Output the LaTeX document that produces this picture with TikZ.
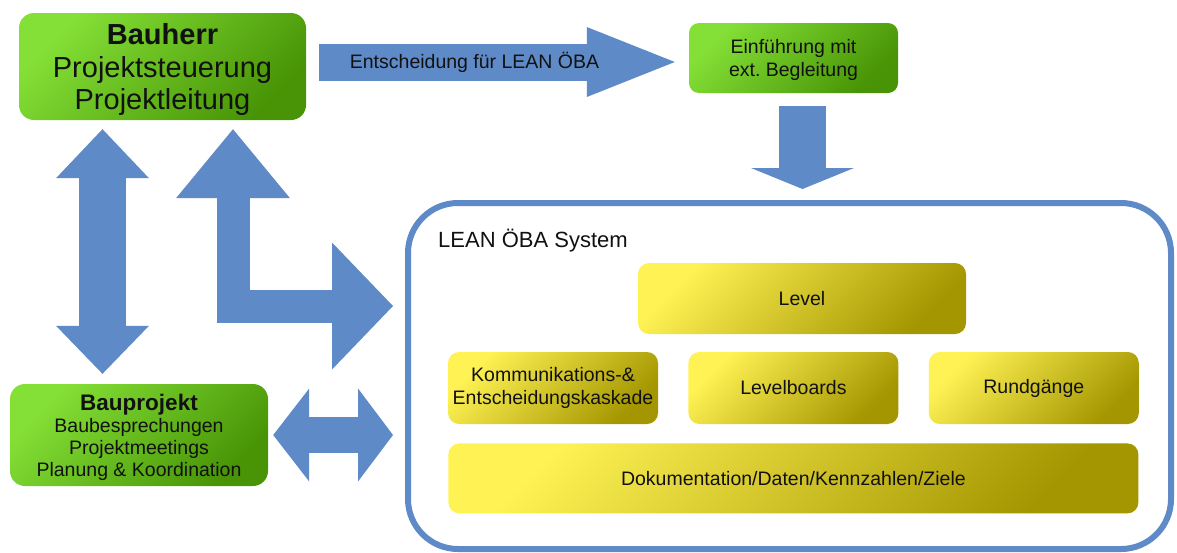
\documentclass[tikz,border=0pt]{standalone}
\usepackage{fontspec}
\setmainfont{Liberation Sans}
\usepackage{tikz}
\usetikzlibrary{arrows.meta,positioning,calc}
\definecolor{blockblue}{RGB}{94,138,199}
\definecolor{greenL}{RGB}{132,224,54}
\definecolor{greenD}{RGB}{72,148,6}
\definecolor{yellowL}{RGB}{255,242,84}
\definecolor{yellowD}{RGB}{164,150,0}
\definecolor{textK}{HTML}{111111}
\tikzset{
  greenbox/.style={rectangle, rounded corners=#1, top color=greenL, bottom color=greenD,
                   shading angle=45, align=center, inner sep=0pt, text=textK, text depth=0pt},
  yellowbox/.style={rectangle, rounded corners=11pt, top color=yellowL, bottom color=yellowD,
                    shading angle=45, align=center, inner sep=0pt, text=textK,
                    font=\fontsize{19.5}{23}\selectfont},
  blockarrow/.style={draw=blockblue, line width=#1, line join=miter},
}

\begin{document}
\begin{tikzpicture}[x=1pt, y=-1pt]
\useasboundingbox (0,0) rectangle (1177,552);
\node[greenbox=15pt, minimum width=287pt, minimum height=107pt, font=\fontsize{29}{32.5}\selectfont] (bauherr) at (162.5,66.5) {\textbf{Bauherr}\\Projektsteuerung\\Projektleitung};
\node[greenbox=10pt, minimum width=209pt, minimum height=70pt, font=\fontsize{19.5}{23.5}\selectfont] (einf) at (793.5,58) {Einführung mit\\ext.\ Begleitung};
\node[greenbox=15pt, minimum width=258pt, minimum height=102pt, font=\fontsize{19.5}{22}\selectfont] (bauprojekt) at (139,435) {{\fontsize{22.5}{22}\selectfont\textbf{Bauprojekt}}\\Baubesprechungen\\Projektmeetings\\Planung \& Koordination};
% LEAN system frame
\node[rectangle, draw=blockblue, line width=6pt, rounded corners=50pt, minimum width=763pt, minimum height=346pt, inner sep=0pt] (lean) at (789.5,376) {};
\node[anchor=west, inner sep=0pt, font=\fontsize{22}{26}\selectfont, text=textK] (leantitle) at (438,241) {LEAN ÖBA System};
\node[yellowbox, minimum width=328pt, minimum height=71pt] (level) at (802,298.5) {Level};
\node[yellowbox, minimum width=210pt, minimum height=72pt] (komm) at (553,388) {Kommunikations-\&\\Entscheidungskaskade};
\node[yellowbox, minimum width=210pt, minimum height=72pt, right=30pt of komm] (levelboards) {Levelboards};
\node[yellowbox, minimum width=210pt, minimum height=72pt, right=30pt of levelboards] (rundgaenge) {Rundgänge};
\node[yellowbox, minimum width=690pt, minimum height=70pt, below=19pt of levelboards] (doku) {Dokumentation/Daten/Kennzahlen/Ziele};
% block arrows
\draw[blockarrow=37pt, -{Triangle[length=88pt,width=70pt,line width=0pt]}, shorten <=13pt, shorten >=14pt] ([yshift=4.5pt]bauherr.east) -- ([yshift=-4pt]einf.west) node[pos=0.44, text=textK, font=\fontsize{19.5}{23}\selectfont] {Entscheidung für LEAN ÖBA};
\draw[blockarrow=47pt, -{Triangle[length=21pt,width=103pt,line width=0pt]}, shorten <=13pt, shorten >=11pt] ([xshift=9pt]einf.south) -- ([xshift=9pt]einf.south |- lean.north);
\draw[blockarrow=47pt, {Triangle[length=49pt,width=93pt,line width=0pt]}-{Triangle[length=48pt,width=93pt,line width=0pt]}, shorten <=9pt, shorten >=10pt] ([xshift=-60pt]bauherr.south) -- ([xshift=-60pt]bauherr.south |- bauprojekt.north);
\draw[blockarrow=33pt, {Triangle[length=69pt,width=114pt,line width=0pt]}-{Triangle[length=61pt,width=127pt,line width=0pt]}, shorten <=9pt, shorten >=12pt] ([xshift=70.5pt]bauherr.south) |- ([yshift=70pt]lean.west);
\draw[blockarrow=36pt, {Triangle[length=36pt,width=93pt,line width=0pt]}-{Triangle[length=35pt,width=93pt,line width=0pt]}, shorten <=5pt, shorten >=12pt] (bauprojekt.east) -- (bauprojekt.east -| lean.west);
\end{tikzpicture}
\end{document}
